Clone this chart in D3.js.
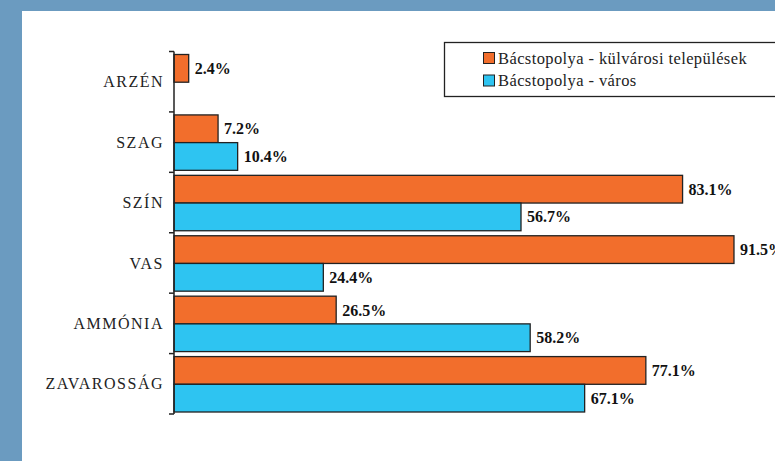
<!DOCTYPE html>
<html lang="hu">
<head>
<meta charset="UTF-8">
<title>Bácstopolya</title>
<script src="https://d3js.org/d3.v7.min.js"></script>
<style>
    body { margin: 0; background: #6b9bc0; }
    svg { display: block; }
    .cat { font-family: "Liberation Serif", "Times New Roman", Times, serif; font-size: 16px; font-weight: normal; fill: #222; letter-spacing: 1.5px; }
    .val { font-family: "Liberation Serif", "Times New Roman", Times, serif; font-size: 16px; font-weight: bold; fill: #111; }
    .leg { font-family: "Liberation Serif", "Times New Roman", Times, serif; font-size: 16.5px; font-weight: normal; fill: #222; letter-spacing: 0.4px; }
</style>
</head>
<body>
<script>
    const width = 775;
    const height = 461;

    // data
    const categories = ["ARZÉN", "SZAG", "SZÍN", "VAS", "AMMÓNIA", "ZAVAROSSÁG"];
    const seriesNames = ["Bácstopolya - külvárosi települések", "Bácstopolya - város"];
    const suburbValues = [2.4, 7.2, 83.1, 91.5, 26.5, 77.1];
    const cityValues = [null, 10.4, 56.7, 24.4, 58.2, 67.1];
    const colors = ["#f26e2c", "#2ec4f1"];

    const rows = categories.map((c, i) => ({
        cat: c,
        vals: [suburbValues[i], cityValues[i]]
    }));

    const svg = d3.select("body").append("svg")
        .attr("width", width)
        .attr("height", height);

    // white panel
    svg.append("rect")
        .attr("x", 22).attr("y", 11)
        .attr("width", width - 22).attr("height", height - 11)
        .attr("fill", "#fff");

    const x = d3.scaleLinear().domain([0, 100]).range([174, 786]);
    const y = d3.scaleBand().domain(categories).range([51.5, 414]);
    const ySub = d3.scaleBand().domain([0, 1]).range([3, y.bandwidth() - 2]);

    // bars
    const groups = svg.selectAll(".grp")
        .data(rows)
        .enter().append("g")
        .attr("transform", d => "translate(0," + y(d.cat) + ")");

    groups.selectAll("rect")
        .data(d => d.vals.map((v, k) => ({ v, k })).filter(e => e.v != null))
        .enter().append("rect")
        .attr("x", x(0))
        .attr("y", e => ySub(e.k))
        .attr("width", e => x(e.v) - x(0))
        .attr("height", ySub.bandwidth())
        .attr("fill", e => colors[e.k])
        .attr("stroke", "#222")
        .attr("stroke-width", 1.3);

    groups.selectAll(".val")
        .data(d => d.vals.map((v, k) => ({ v, k })).filter(e => e.v != null))
        .enter().append("text")
        .attr("class", "val")
        .attr("x", e => x(e.v) + 6)
        .attr("y", e => ySub(e.k) + ySub.bandwidth() / 2)
        .attr("dy", "0.35em")
        .text(e => e.v.toFixed(1) + "%");

    // axis
    const axis = svg.append("g");
    axis.append("line")
        .attr("x1", x(0)).attr("x2", x(0))
        .attr("y1", y.range()[0]).attr("y2", y.range()[1])
        .attr("stroke", "#222").attr("stroke-width", 1.5);
    const bounds = categories.map(c => y(c)).concat([y.range()[1]]);
    axis.selectAll(".tk")
        .data(bounds)
        .enter().append("line")
        .attr("x1", x(0) - 5).attr("x2", x(0))
        .attr("y1", d => d).attr("y2", d => d)
        .attr("stroke", "#222").attr("stroke-width", 1.5);

    svg.selectAll(".cat")
        .data(categories)
        .enter().append("text")
        .attr("class", "cat")
        .attr("x", 164)
        .attr("y", d => y(d) + y.bandwidth() / 2)
        .attr("dy", "0.35em")
        .attr("text-anchor", "end")
        .text(d => d);

    // legend
    const legend = svg.append("g");
    legend.append("rect")
        .attr("x", 444.5).attr("y", 42.5)
        .attr("width", 340).attr("height", 54)
        .attr("fill", "#fff")
        .attr("stroke", "#222").attr("stroke-width", 1.3);
    seriesNames.forEach((s, i) => {
        legend.append("rect")
            .attr("x", 483.5).attr("y", 52.5 + i * 22.5)
            .attr("width", 11).attr("height", 11)
            .attr("fill", colors[i])
            .attr("stroke", "#222");
        legend.append("text")
            .attr("class", "leg")
            .attr("x", 498)
            .attr("y", 58 + i * 22.5)
            .attr("dy", "0.35em")
            .text(s);
    });
</script>
</body>
</html>
